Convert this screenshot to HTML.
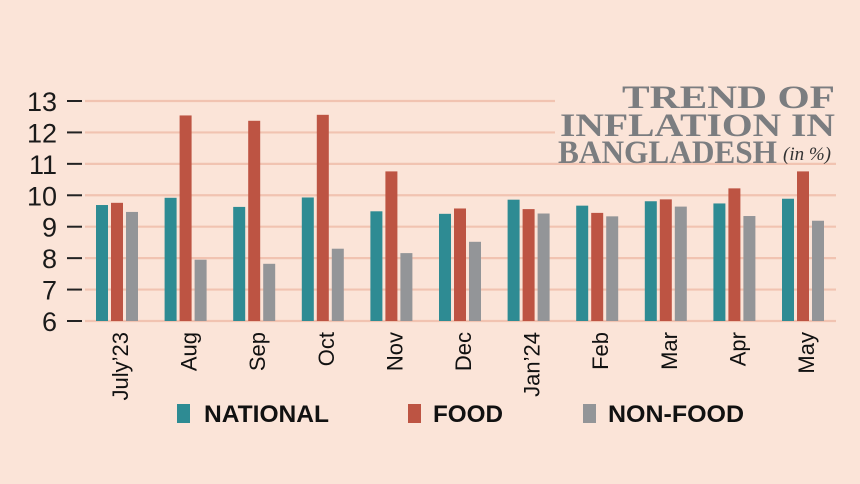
<!DOCTYPE html>
<html><head><meta charset="utf-8"><style>
html,body{margin:0;padding:0;background:#fbe4d8;}
svg{display:block}
</style></head><body>
<svg width="860" height="484" viewBox="0 0 860 484" xmlns="http://www.w3.org/2000/svg">
<rect width="860" height="484" fill="#fbe4d8"/>
<g id="chart"></g>
<g font-family="Liberation Serif, serif" font-weight="bold" fill="#7b7d80" text-anchor="end">
<text x="835" y="108" font-size="33" textLength="213" lengthAdjust="spacingAndGlyphs">TREND OF</text>
<text x="835" y="136" font-size="33" textLength="275" lengthAdjust="spacingAndGlyphs">INFLATION IN</text>
<text x="777" y="163" font-size="33" textLength="219" lengthAdjust="spacingAndGlyphs">BANGLADESH</text>
</g>
<text x="783" y="160" font-family="Liberation Serif, serif" font-style="italic" font-size="19" fill="#333">(in %)</text>
<g font-family="Liberation Sans, sans-serif" font-weight="bold" font-size="24" fill="#111">
<rect x="177" y="404" width="13" height="19" fill="#2e8b93"/>
<text x="204" y="422" textLength="125" lengthAdjust="spacingAndGlyphs">NATIONAL</text>
<rect x="408" y="404" width="13" height="19" fill="#bd5443"/>
<text x="433" y="422" textLength="70" lengthAdjust="spacingAndGlyphs">FOOD</text>
<rect x="583" y="404" width="13" height="19" fill="#939598"/>
<text x="608" y="422" textLength="136" lengthAdjust="spacingAndGlyphs">NON-FOOD</text>
</g>
</svg>
<script>
(function(){
var ns="http://www.w3.org/2000/svg",g=document.getElementById("chart");
function el(t,a,txt){var e=document.createElementNS(ns,t);for(var k in a)e.setAttribute(k,a[k]);if(txt)e.textContent=txt;g.appendChild(e);return e;}
function Y(v){return 321-(v-6)*31.43;}
for(var v=6;v<=13;v++){
 var y=Y(v);
 el("line",{x1:85,x2:(v>=12?555:836),y1:y,y2:y,stroke:"#f1c3b1","stroke-width":2.2});
 el("line",{x1:67,x2:82,y1:y,y2:y,stroke:"#222","stroke-width":2});
 el("text",{x:57,y:y+10,"text-anchor":"end","font-family":"Liberation Sans, sans-serif","font-size":27,fill:"#1a1a1a"},String(v));
}
var d=[["July’23",9.69,9.76,9.47],["Aug",9.92,12.54,7.95],["Sep",9.63,12.37,7.82],["Oct",9.93,12.56,8.30],["Nov",9.49,10.76,8.16],["Dec",9.41,9.58,8.52],["Jan’24",9.86,9.56,9.42],["Feb",9.67,9.44,9.33],["Mar",9.81,9.87,9.64],["Apr",9.74,10.22,9.34],["May",9.89,10.76,9.19]];
var c=["#2e8b93","#bd5443","#939598"];
d.forEach(function(r,i){
 var x0=96+68.6*i;
 for(var j=0;j<3;j++){var y=Y(r[j+1]);el("rect",{x:x0+j*15,y:y,width:12,height:321-y,fill:c[j]});}
 var cx=x0+24+8;
 el("text",{x:0,y:0,transform:"translate("+cx+",332) rotate(-90)","text-anchor":"end","font-family":"Liberation Sans, sans-serif","font-size":22,fill:"#111"},r[0]);
});
})();
</script>
</body></html>
